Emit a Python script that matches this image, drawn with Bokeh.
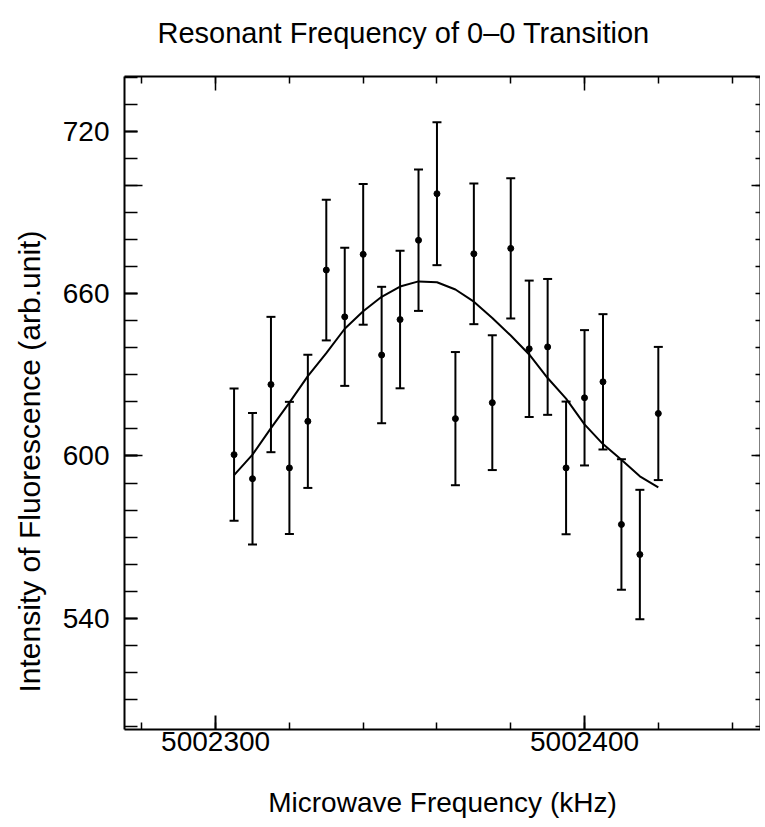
import math
from bokeh.plotting import figure
from bokeh.models import (LinearAxis, FixedTicker, Whisker, TeeHead, BasicTickFormatter,
                          ColumnDataSource, Title, Range1d)
from bokeh.embed import file_html
from bokeh.resources import INLINE

# ---- data ----
freq_khz = [5002305, 5002310, 5002315, 5002320, 5002325, 5002330, 5002335, 5002340,
            5002345, 5002350, 5002355, 5002360, 5002365, 5002370, 5002375, 5002380,
            5002385, 5002390, 5002395, 5002400, 5002405, 5002410, 5002415, 5002420]
intensity = [600.5, 591.6, 626.4, 595.6, 612.8, 668.7, 651.4, 674.5,
             637.3, 650.4, 679.7, 696.9, 613.8, 674.7, 619.7, 676.7,
             639.6, 640.3, 595.6, 621.5, 627.4, 574.7, 563.6, 615.7]
error = [24.4, 24.3, 25.0, 24.4, 24.6, 26.0, 25.5, 26.0,
         25.2, 25.4, 26.1, 26.4, 24.6, 26.0, 24.9, 25.9,
         25.2, 25.1, 24.5, 25.0, 25.0, 24.1, 23.9, 24.6]
fit_curve = [592.9, 600.5, 610.3, 619.7, 629.5, 638.0, 647.0, 653.5,
             658.8, 662.6, 664.5, 664.2, 661.5, 657.0, 651.0, 644.5,
             637.5, 628.8, 621.2, 611.7, 604.4, 598.6, 592.5, 588.4]

x_major_ticks = [5002300, 5002400]
x_minor_ticks = [5002280, 5002300, 5002320, 5002340, 5002360, 5002380,
                 5002400, 5002420, 5002440]
y_label_ticks = [540, 600, 660, 720]
y_hundred_ticks = [600, 700]
y_minor_ticks = [500, 510, 520, 530, 540, 550, 560, 570, 580, 590, 600, 610,
                 620, 630, 640, 650, 660, 670, 680, 690, 700, 710, 720, 730, 740]

title_text = "Resonant Frequency of 0\u20130 Transition"
x_title = "Microwave Frequency (kHz)"
y_title = "Intensity of Fluorescence (arb.unit)"

FONT = "Liberation Sans"

src = ColumnDataSource(data=dict(
    x=freq_khz, y=intensity,
    lower=[v - e for v, e in zip(intensity, error)],
    upper=[v + e for v, e in zip(intensity, error)],
))
fit_src = ColumnDataSource(data=dict(x=freq_khz, y=fit_curve))

p = figure(frame_width=636, frame_height=653,
           min_border_left=123, min_border_top=76, min_border_right=0, min_border_bottom=0,
           x_range=Range1d(5002275.3, 5002447.7), y_range=Range1d(498.95, 740.2),
           x_axis_location=None, y_axis_location=None,
           output_backend="svg", toolbar_location=None)
p.outline_line_color = None
p.grid.visible = False
p.background_fill_color = "white"
p.border_fill_color = "white"

p.title.text = title_text
p.title.align = "left"
p.title.offset = 33
p.title.vertical_align = "bottom"
p.title.text_font = FONT
p.title.text_font_size = "29px"
p.title.text_font_style = "normal"
p.title.text_color = "black"
p.title.padding = dict(left=0, right=0, top=0, bottom=16)
p.title.standoff = 24

common = dict(axis_line_width=2, axis_line_color="black",
              major_tick_line_width=2, minor_tick_line_width=1.5,
              major_tick_line_color="black", minor_tick_line_color="black",
              major_tick_out=0, minor_tick_out=0,
              major_label_text_font=FONT, major_label_text_color="black")

bare = dict(major_tick_out=0, minor_tick_out=0, major_tick_in=0,
            minor_tick_line_color="black", minor_tick_line_width=1.5,
            major_label_standoff=0)

bottom = LinearAxis(ticker=FixedTicker(ticks=x_major_ticks, minor_ticks=x_minor_ticks),
                    formatter=BasicTickFormatter(use_scientific=False),
                    major_tick_in=14, minor_tick_in=7,
                    major_label_text_font_size="28px", major_label_standoff=2,
                    axis_label=x_title, axis_label_text_font=FONT,
                    axis_label_text_font_size="28px", axis_label_text_font_style="normal",
                    axis_label_text_color="black", axis_label_standoff=33, **common)
p.add_layout(bottom, "below")

# top edge: short ticks every 20 kHz, longer ones at the labelled frequencies
p.add_layout(LinearAxis(ticker=FixedTicker(ticks=[], minor_ticks=x_minor_ticks),
                        minor_tick_in=7, axis_line_width=2, axis_line_color="black",
                        **bare), "above")
p.add_layout(LinearAxis(ticker=FixedTicker(ticks=[], minor_ticks=x_major_ticks),
                        minor_tick_in=14, axis_line_color=None, **bare), "above")

# left edge: longer ticks at 600 and 700, then the labelled axis
p.add_layout(LinearAxis(ticker=FixedTicker(ticks=[], minor_ticks=y_hundred_ticks),
                        minor_tick_in=18, axis_line_color=None, **bare), "left")
left = LinearAxis(ticker=FixedTicker(ticks=y_label_ticks, minor_ticks=y_minor_ticks),
                  major_tick_in=13, minor_tick_in=13,
                  major_label_text_font_size="28px", major_label_standoff=15, **common)
p.add_layout(left, "left")

# right edge: short ticks every 10, slightly longer at 600 and 700
p.add_layout(LinearAxis(ticker=FixedTicker(ticks=[], minor_ticks=y_minor_ticks),
                        minor_tick_in=5, axis_line_width=2, axis_line_color="black",
                        **bare), "right")
p.add_layout(LinearAxis(ticker=FixedTicker(ticks=[], minor_ticks=y_hundred_ticks),
                        minor_tick_in=9, axis_line_color=None, **bare), "right")

# vertical axis title, placed lower than the frame centre as in the reference
p.add_layout(Title(text=y_title, align="left", offset=37, vertical_align="top",
                   standoff=24, text_font=FONT, text_font_size="30px",
                   text_font_style="normal", text_color="black"), "left")

p.line("x", "y", source=fit_src, line_color="black", line_width=2)

p.add_layout(Whisker(base="x", upper="upper", lower="lower", source=src,
                     line_color="black", line_width=2,
                     upper_head=TeeHead(size=9, line_width=2, line_color="black"),
                     lower_head=TeeHead(size=9, line_width=2, line_color="black")))
p.scatter("x", "y", source=src, size=6, color="black")

open("out.html", "w").write(file_html(p, INLINE))
